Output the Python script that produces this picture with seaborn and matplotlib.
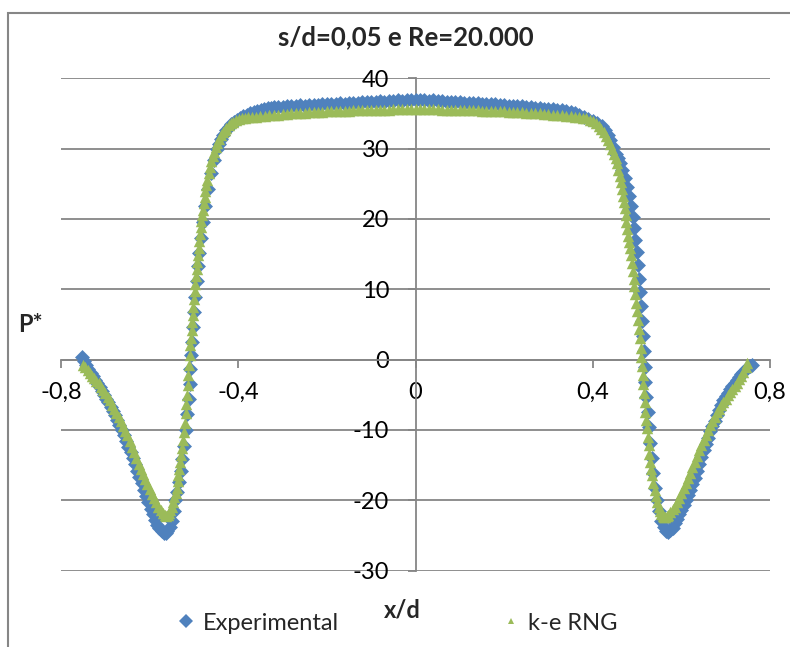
import matplotlib
matplotlib.use("Agg")
import matplotlib.pyplot as plt
import seaborn as sns
import pandas as pd
from matplotlib.patches import Rectangle
from matplotlib.lines import Line2D

# ---------------- data ----------------
title = "s/d=0,05 e Re=20.000"
x_label = "x/d"
y_label = "P*"
series_names = ["Experimental", "k-e RNG"]
x_ticks = [-0.8, -0.4, 0.0, 0.4, 0.8]
x_tick_labels = ["-0,8", "-0,4", "0", "0,4", "0,8"]
y_ticks = [-30, -20, -10, 0, 10, 20, 30, 40]
y_tick_labels = ["-30", "-20", "-10", "0", "10", "20", "30", "40"]

exp_x = [
    -0.7535, -0.748, -0.743, -0.738, -0.733, -0.728, -0.723, -0.718, -0.713, -0.708,
    -0.703, -0.698, -0.693, -0.688, -0.683, -0.678, -0.673, -0.668, -0.663, -0.658,
    -0.653, -0.648, -0.643, -0.638, -0.633, -0.628, -0.623, -0.618, -0.613, -0.608,
    -0.603, -0.598, -0.593, -0.588, -0.583, -0.578, -0.573, -0.568, -0.564, -0.560,
    -0.555, -0.550, -0.546, -0.542, -0.538, -0.534, -0.530, -0.526, -0.522, -0.518,
    -0.515, -0.512, -0.510, -0.508, -0.506, -0.504, -0.502, -0.500, -0.497, -0.494,
    -0.491, -0.488, -0.484, -0.479, -0.474, -0.468, -0.461, -0.455, -0.449, -0.444,
    -0.439, -0.434, -0.428, -0.422, -0.416, -0.410, -0.403, -0.396, -0.389, -0.381,
    -0.373, -0.365, -0.357, -0.349, -0.341, -0.333, -0.325,
    -0.32, -0.31, -0.30, -0.29, -0.28, -0.27, -0.26, -0.25, -0.24, -0.23,
    -0.22, -0.21, -0.20, -0.19, -0.18, -0.17, -0.16, -0.15, -0.14, -0.13,
    -0.12, -0.11, -0.10, -0.09, -0.08, -0.07, -0.06, -0.05, -0.04, -0.03,
    -0.02, -0.01, 0.00, 0.01, 0.02, 0.03, 0.04, 0.05, 0.06, 0.07,
    0.08, 0.09, 0.10, 0.11, 0.12, 0.13, 0.14, 0.15, 0.16, 0.17,
    0.18, 0.19, 0.20, 0.21, 0.22, 0.23, 0.24, 0.25, 0.26, 0.27,
    0.28, 0.29, 0.30, 0.31, 0.32, 0.33, 0.34, 0.35, 0.36, 0.37,
    0.38, 0.39, 0.40, 0.41, 0.42, 0.427, 0.434, 0.440, 0.446, 0.452,
    0.457, 0.462, 0.467, 0.472, 0.477, 0.482, 0.486, 0.490, 0.493, 0.496,
    0.499, 0.502, 0.504, 0.506, 0.509, 0.511, 0.513, 0.515, 0.517, 0.519,
    0.521, 0.524, 0.527, 0.530, 0.533, 0.537, 0.541, 0.545, 0.550, 0.555,
    0.560, 0.565, 0.570, 0.575, 0.580, 0.585, 0.590, 0.595, 0.600, 0.605,
    0.610, 0.615, 0.620, 0.625, 0.630, 0.635, 0.640, 0.645, 0.650, 0.655,
    0.660, 0.665, 0.670, 0.675, 0.680, 0.685, 0.690, 0.695, 0.700, 0.705,
    0.710, 0.715, 0.720, 0.725, 0.730, 0.735, 0.740, 0.745, 0.750, 0.755, 0.759,
]
exp_y = [
    0.4, -0.2, -0.8, -1.3, -1.9, -2.4, -2.9, -3.4, -3.9, -4.5,
    -5.0, -5.6, -6.1, -6.7, -7.3, -7.9, -8.6, -9.3, -10.0, -10.8,
    -11.6, -12.4, -13.2, -14.0, -14.9, -15.8, -16.7, -17.6, -18.5, -19.4,
    -20.3, -21.2, -22.0, -22.8, -23.5, -24.0, -24.4, -24.6, -24.6, -24.4,
    -23.8, -22.9, -21.6, -20.0, -18.8, -17.4, -15.9, -14.2, -12.3, -10.0,
    -7.8, -5.6, -3.5, -1.3, 0.6, 2.5, 4.6, 6.7, 8.9, 11.2,
    13.3, 15.2, 17.3, 19.6, 21.9, 24.2, 26.6, 28.4, 29.9, 30.6,
    31.4, 32.0, 32.6, 33.1, 33.5, 33.8, 34.1, 34.35, 34.6, 34.8,
    35.05, 35.25, 35.4, 35.55, 35.65, 35.75, 35.8,
    35.85, 35.9, 35.95, 36.05, 36.0, 36.1, 36.15, 36.1, 36.2, 36.25,
    36.2, 36.3, 36.35, 36.3, 36.4, 36.45, 36.4, 36.5, 36.55, 36.5,
    36.6, 36.6, 36.7, 36.65, 36.75, 36.7, 36.8, 36.75, 36.85, 36.8,
    36.9, 36.85, 36.9, 36.85, 36.9, 36.8, 36.85, 36.75, 36.8, 36.7,
    36.7, 36.6, 36.65, 36.55, 36.55, 36.45, 36.5, 36.4, 36.35, 36.3,
    36.35, 36.2, 36.2, 36.1, 36.1, 36.0, 36.0, 35.9, 35.9, 35.8,
    35.8, 35.7, 35.65, 35.6, 35.5, 35.45, 35.35, 35.2, 35.0, 34.8,
    34.55, 34.25, 33.95, 33.6, 33.2, 32.7, 32.0, 31.2, 30.3, 29.3,
    28.6, 28.0, 27.0, 25.8, 24.6, 23.3, 21.9, 20.3, 18.7, 17.0,
    15.3, 13.4, 11.5, 9.6, 7.6, 5.5, 3.4, 1.2, -1.0, -3.2,
    -5.3, -7.4, -9.6, -11.8, -14.0, -16.2, -18.3, -20.0, -21.6, -22.9,
    -23.8, -24.4, -24.5, -24.3, -23.9, -23.3, -22.7, -22.0, -21.4, -20.7,
    -20.0, -19.2, -18.5, -17.7, -16.8, -15.9, -14.9, -13.9, -12.9, -12.0,
    -11.1, -10.2, -9.4, -8.7, -7.9, -7.2, -6.5, -5.8, -5.2, -4.7,
    -4.2, -3.7, -3.3, -2.9, -2.5, -2.1, -1.7, -1.4, -1.1, -0.9, -0.8,
]

rng_x = [
    -0.750, -0.745, -0.740, -0.735, -0.730, -0.725, -0.720, -0.715, -0.710, -0.705,
    -0.700, -0.695, -0.690, -0.685, -0.680, -0.675, -0.670, -0.665, -0.660, -0.655,
    -0.650, -0.645, -0.640, -0.635, -0.630, -0.625, -0.620, -0.615, -0.610, -0.605,
    -0.600, -0.595, -0.590, -0.585, -0.580, -0.575, -0.570, -0.565, -0.562, -0.559,
    -0.556, -0.553, -0.550, -0.547, -0.544, -0.541, -0.539, -0.537, -0.535, -0.533,
    -0.531, -0.529, -0.527, -0.525, -0.523, -0.521, -0.519, -0.5175, -0.516, -0.5145,
    -0.513, -0.5115, -0.510, -0.5085, -0.507, -0.5055, -0.504, -0.5025, -0.501, -0.4995,
    -0.498, -0.4965, -0.495, -0.4935, -0.492, -0.4905, -0.489, -0.4875, -0.486, -0.4845,
    -0.483, -0.4815, -0.480, -0.478, -0.476, -0.474, -0.472, -0.470, -0.467, -0.464,
    -0.461, -0.458, -0.455, -0.451, -0.447, -0.443, -0.439, -0.435, -0.431, -0.427,
    -0.422, -0.417, -0.411, -0.405, -0.398, -0.391, -0.384, -0.377,
    -0.37, -0.36, -0.35, -0.34, -0.33, -0.32, -0.31, -0.30, -0.29, -0.28,
    -0.27, -0.26, -0.25, -0.24, -0.23, -0.22, -0.21, -0.20, -0.19, -0.18,
    -0.17, -0.16, -0.15, -0.14, -0.13, -0.12, -0.11, -0.10, -0.09, -0.08,
    -0.07, -0.06, -0.05, -0.04, -0.03, -0.02, -0.01, 0.00, 0.01, 0.02,
    0.03, 0.04, 0.05, 0.06, 0.07, 0.08, 0.09, 0.10, 0.11, 0.12,
    0.13, 0.14, 0.15, 0.16, 0.17, 0.18, 0.19, 0.20, 0.21, 0.22,
    0.23, 0.24, 0.25, 0.26, 0.27, 0.28, 0.29, 0.30, 0.31, 0.32,
    0.33, 0.34, 0.35, 0.36, 0.37,
    0.378, 0.385, 0.393, 0.400, 0.407, 0.413, 0.419, 0.425, 0.430, 0.435,
    0.440, 0.444, 0.448, 0.452, 0.455, 0.458, 0.461, 0.4635, 0.466, 0.468,
    0.470, 0.472, 0.474, 0.476, 0.478, 0.480, 0.482, 0.484, 0.486, 0.488,
    0.490, 0.492, 0.494, 0.496, 0.498, 0.500, 0.502, 0.504, 0.506, 0.508,
    0.510, 0.5115, 0.513, 0.5145, 0.516, 0.5175, 0.519, 0.5205, 0.522, 0.524,
    0.526, 0.528, 0.530, 0.532, 0.534, 0.537, 0.540, 0.543, 0.546, 0.549,
    0.552, 0.555, 0.558, 0.561, 0.564, 0.567, 0.570, 0.575, 0.580, 0.585,
    0.590, 0.595, 0.600, 0.605, 0.610, 0.615, 0.620, 0.625, 0.630, 0.635,
    0.640, 0.645, 0.650, 0.655, 0.660, 0.665, 0.670, 0.675, 0.680, 0.685,
    0.690, 0.695, 0.700, 0.705, 0.710, 0.715, 0.720, 0.725, 0.730, 0.735,
    0.740, 0.745, 0.748,
]
rng_y = [
    -0.8, -1.1, -1.5, -1.9, -2.3, -2.6, -3.0, -3.4, -3.9, -4.3,
    -4.8, -5.3, -5.8, -6.4, -7.0, -7.6, -8.2, -8.8, -9.4, -10.1,
    -10.8, -11.6, -12.4, -13.2, -14.0, -14.8, -15.6, -16.3, -17.0, -17.7,
    -18.4, -19.1, -19.7, -20.3, -20.9, -21.4, -21.8, -22.1, -22.2, -22.1,
    -21.8, -21.4, -20.9, -20.3, -19.6, -19.0, -18.2, -17.3, -16.4, -15.5,
    -14.6, -13.6, -12.6, -11.5, -10.3, -9.0, -7.6, -6.3, -5.0, -3.6,
    -2.2, -0.8, 0.6, 2.0, 3.1, 4.2, 5.3, 6.4, 7.5, 8.6,
    9.7, 10.8, 11.9, 12.9, 13.9, 14.9, 15.9, 16.9, 17.8, 18.8,
    19.7, 20.5, 21.3, 22.2, 23.1, 24.0, 24.8, 25.6, 26.5, 27.4,
    28.2, 28.9, 29.5, 30.2, 30.8, 31.4, 31.9, 32.3, 32.7, 33.0,
    33.3, 33.6, 33.85, 34.05, 34.2, 34.32, 34.42, 34.47,
    34.50, 34.56, 34.62, 34.68, 34.74, 34.80, 34.85, 34.90, 34.95, 35.00,
    35.04, 35.08, 35.12, 35.16, 35.20, 35.23, 35.26, 35.29, 35.32, 35.35,
    35.38, 35.40, 35.42, 35.44, 35.46, 35.48, 35.50, 35.51, 35.53, 35.54,
    35.55, 35.56, 35.57, 35.58, 35.58, 35.59, 35.59, 35.60, 35.59, 35.59,
    35.58, 35.58, 35.57, 35.56, 35.55, 35.54, 35.53, 35.51, 35.50, 35.48,
    35.46, 35.44, 35.42, 35.40, 35.38, 35.35, 35.32, 35.29, 35.26, 35.23,
    35.20, 35.16, 35.12, 35.08, 35.04, 35.00, 34.95, 34.90, 34.85, 34.80,
    34.74, 34.68, 34.62, 34.55, 34.48,
    34.4, 34.3, 34.1, 33.9, 33.6, 33.2, 32.8, 32.3, 31.8, 31.2,
    30.6, 30.0, 29.3, 28.6, 27.9, 27.0, 26.1, 25.2, 24.2, 23.3,
    22.4, 21.5, 20.5, 19.5, 18.5, 17.6, 16.7, 15.8, 14.8, 13.7,
    12.6, 11.5, 10.4, 9.3, 8.1, 6.9, 5.6, 4.3, 3.0, 1.7,
    0.4, -0.9, -2.2, -3.5, -4.8, -6.1, -7.4, -8.6, -9.8, -11.0,
    -12.2, -13.4, -14.5, -15.5, -16.4, -17.5, -18.5, -19.4, -20.2, -20.9,
    -21.5, -21.9, -22.2, -22.4, -22.4, -22.3, -22.1, -21.7, -21.3, -20.9,
    -20.3, -19.7, -19.0, -18.3, -17.6, -16.9, -16.1, -15.3, -14.5, -13.7,
    -12.9, -12.1, -11.4, -10.7, -10.0, -9.3, -8.7, -8.1, -7.5, -7.0,
    -6.5, -6.0, -5.6, -5.1, -4.6, -4.2, -3.8, -3.3, -2.8, -2.3,
    -1.7, -1.0, -0.5,
]

# ---------------- style ----------------
BLUE = "#4F81BD"
GREEN = "#9BBB59"
GRAY = "#868686"

sns.set_theme(style="white")
plt.rcParams["font.family"] = ["Lato", "DejaVu Sans"]

df_exp = pd.DataFrame({"x": exp_x, "y": exp_y})
df_rng = pd.DataFrame({"x": rng_x, "y": rng_y})

fig = plt.figure(figsize=(7.9, 6.47), dpi=100)
ax = fig.add_axes([61 / 790, 1 - 570.5 / 647, 709 / 790, 492.2 / 647])

sns.scatterplot(data=df_exp, x="x", y="y", ax=ax, marker="D", s=58,
                color=BLUE, linewidth=0, zorder=3, legend=False)
sns.scatterplot(data=df_rng, x="x", y="y", ax=ax, marker="^", s=68,
                color=GREEN, linewidth=0, zorder=4, legend=False)

ax.set_xlim(-0.8, 0.8)
ax.set_ylim(-30, 40)
ax.set_xticks(x_ticks)
ax.set_xticklabels(x_tick_labels)
ax.set_yticks(y_ticks)
ax.set_yticklabels(y_tick_labels)

ax.grid(axis="y", color=GRAY, linewidth=1.3)
ax.grid(axis="x", visible=False)
ax.set_axisbelow(True)

for side in ["top", "right"]:
    ax.spines[side].set_visible(False)
ax.spines["left"].set_position(("data", 0))
ax.spines["bottom"].set_position(("data", 0))
for side in ["left", "bottom"]:
    ax.spines[side].set_color(GRAY)
    ax.spines[side].set_linewidth(1.3)
    ax.spines[side].set_zorder(2)

ax.tick_params(axis="x", direction="out", length=6, width=1.3, color=GRAY,
               labelsize=17, pad=10, bottom=True)
ax.tick_params(axis="y", direction="out", length=6, width=1.3, color=GRAY,
               labelsize=17, pad=13, left=True)
for lab in ax.get_xticklabels() + ax.get_yticklabels():
    lab.set_color("black")

ax.set_xlabel(x_label, fontsize=17, fontweight="bold")
ax.xaxis.set_label_coords((402 - 61) / 709, -(610 - 570.5) / 492.2)
ax.xaxis.label.set_va("center")
ax.set_ylabel(y_label, fontsize=17, fontweight="bold", rotation=0)
ax.yaxis.set_label_coords((30 - 61) / 709, (570.5 - 325) / 492.2)
ax.yaxis.label.set_va("center")
ax.yaxis.label.set_ha("center")

fig.text(406 / 790, 1 - 37 / 647, title, fontsize=18.5, fontweight="bold",
         ha="center", va="center")

handles = [
    Line2D([], [], linestyle="none", marker="D", markersize=7,
           markerfacecolor=BLUE, markeredgewidth=0),
    Line2D([], [], linestyle="none", marker="^", markersize=5,
           markerfacecolor=GREEN, markeredgewidth=0),
]
fig.legend(handles, series_names, loc="center", bbox_to_anchor=(398 / 790, 1 - 623 / 647),
           ncol=2, frameon=False, fontsize=17, columnspacing=7.0,
           handlelength=0.6, handletextpad=0.4)

fig.add_artist(Rectangle((8 / 790, -0.05), 1.2, 1.05 - 13 / 647,
                         transform=fig.transFigure, fill=False,
                         edgecolor=GRAY, linewidth=1.5))

fig.savefig("out.png", dpi=100)
